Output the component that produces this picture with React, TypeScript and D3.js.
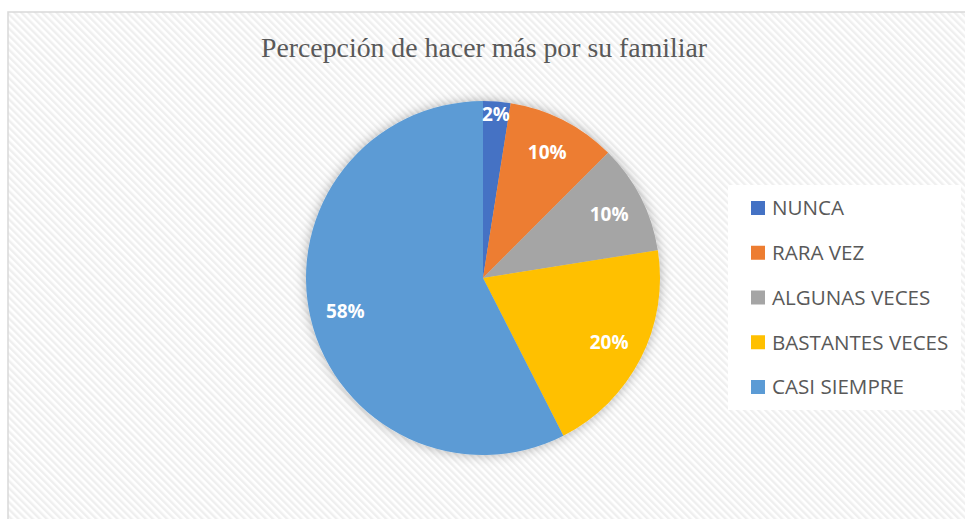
import React from 'react';
import * as d3 from 'd3';

const categories = ['NUNCA', 'RARA VEZ', 'ALGUNAS VECES', 'BASTANTES VECES', 'CASI SIEMPRE'];
const values = [1, 4, 4, 8, 23];
const percentLabels = ['2%', '10%', '10%', '20%', '58%'];
const colors = ['#4472c4', '#ed7d31', '#a5a5a5', '#ffc000', '#5b9bd5'];
const title = 'Percepción de hacer más por su familiar';

const W = 965;
const H = 519;

export default function App() {
  const cx = 483;
  const cy = 278;
  const radius = 177;

  const pie = d3.pie<number>().sort(null).value((d) => d);
  const arcs = pie(values);
  const arc = d3.arc<d3.PieArcDatum<number>>().innerRadius(0).outerRadius(radius);

  const legendX = 751;
  const legendY = d3.scalePoint<string>().domain(categories).range([208, 387]);

  return (
    <div style={{ position: 'fixed', left: 0, top: 0 }}>
      <svg width={W} height={H} style={{ display: 'block' }}>
        <defs>
          <pattern id="hatch" width="5" height="5" patternUnits="userSpaceOnUse" patternTransform="rotate(-45)">
            <rect width="5" height="5" fill="#ffffff" />
            <rect width="2.4" height="5" fill="#efefef" />
          </pattern>
          <filter id="glow" x="-20%" y="-20%" width="140%" height="140%">
            <feDropShadow dx="0" dy="0" stdDeviation="6" floodColor="#000" floodOpacity="0.3" />
          </filter>
        </defs>
        <rect x={0} y={0} width={W} height={H} fill="#ffffff" />
        <rect x={8} y={12} width={W + 10} height={H} fill="url(#hatch)" stroke="#d9d9d9" strokeWidth={1.5} />

        <text x={484} y={57} textAnchor="middle" fontFamily="'Liberation Serif', 'Times New Roman', serif"
          fontSize={27.8} fill="#595959">{title}</text>

        <g transform={`translate(${cx},${cy})`}>
          <g filter="url(#glow)">
            {arcs.map((a, i) => (
              <path key={i} d={arc(a) || ''} fill={colors[i]} />
            ))}
          </g>
          {arcs.map((a, i) => {
            const span = a.endAngle - a.startAngle;
            const r = span < 0.3 ? radius * 0.93 : radius * 0.8;
            const mid = (a.startAngle + a.endAngle) / 2;
            const x = Math.sin(mid) * r;
            const y = -Math.cos(mid) * r;
            return (
              <text key={i} x={x} y={y} dy="0.36em" textAnchor="middle" fontFamily="'Open Sans', sans-serif"
                fontWeight="bold" fontSize={19} fill="#ffffff">{percentLabels[i]}</text>
            );
          })}
        </g>

        <rect x={728} y={185} width={233} height={225} fill="#ffffff" />
        {categories.map((c, i) => (
          <g key={c} transform={`translate(${legendX},${legendY(c)})`}>
            <rect x={0} y={-7} width={14} height={14} fill={colors[i]} />
            <text x={21} y={0} dy="0.36em" fontFamily="'Open Sans', sans-serif" fontSize={20.6} fill="#595959">{c}</text>
          </g>
        ))}
      </svg>
    </div>
  );
}
